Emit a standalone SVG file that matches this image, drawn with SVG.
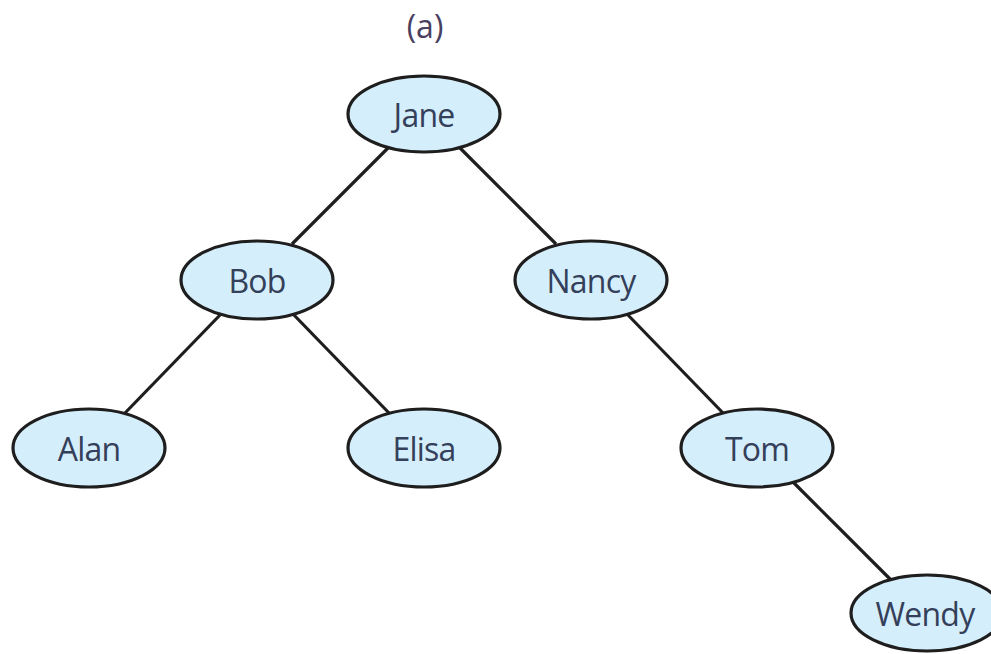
<svg xmlns="http://www.w3.org/2000/svg" width="991" height="654" viewBox="0 0 991 654">
<style>
.n ellipse{fill:#d5eefb;stroke:#1e1e1e;stroke-width:3.2}
.n text{font-family:"Open Sans","Noto Sans",sans-serif;font-size:32px;fill:#34405a;text-anchor:middle;dominant-baseline:central;letter-spacing:-0.8px}
.e line{stroke:#1e1e1e;stroke-width:3.2}
.t{font-family:"Open Sans","Noto Sans",sans-serif;font-size:32px;fill:#4a4060;text-anchor:middle}
</style>
<rect width="991" height="654" fill="#fff"/>
<text class="t" x="425" y="38">(a)</text>
<g class="e">
<line x1="388" y1="148" x2="292" y2="244"/>
<line x1="460" y1="148" x2="556" y2="244"/>
<line x1="221" y1="314" x2="125" y2="413"/>
<line x1="293" y1="314" x2="389" y2="413"/>
<line x1="627" y1="314" x2="723" y2="413"/>
<line x1="793" y1="482" x2="891" y2="580"/>
</g>
<g class="n" id="jane"><ellipse cx="424" cy="114" rx="76" ry="38"/><text x="424" y="114">Jane</text></g>
<g class="n" id="bob"><ellipse cx="257" cy="280" rx="76" ry="39"/><text x="257" y="280">Bob</text></g>
<g class="n" id="nancy"><ellipse cx="591" cy="280" rx="76" ry="39"/><text x="591" y="280">Nancy</text></g>
<g class="n" id="alan"><ellipse cx="89" cy="448" rx="76" ry="39"/><text x="89" y="448">Alan</text></g>
<g class="n" id="elisa"><ellipse cx="424" cy="448" rx="76" ry="39"/><text x="424" y="448">Elisa</text></g>
<g class="n" id="tom"><ellipse cx="757" cy="448" rx="76" ry="39"/><text x="757" y="448">Tom</text></g>
<g class="n" id="wendy"><ellipse cx="927" cy="613" rx="76" ry="38"/><text x="925" y="613">Wendy</text></g>
</svg>
